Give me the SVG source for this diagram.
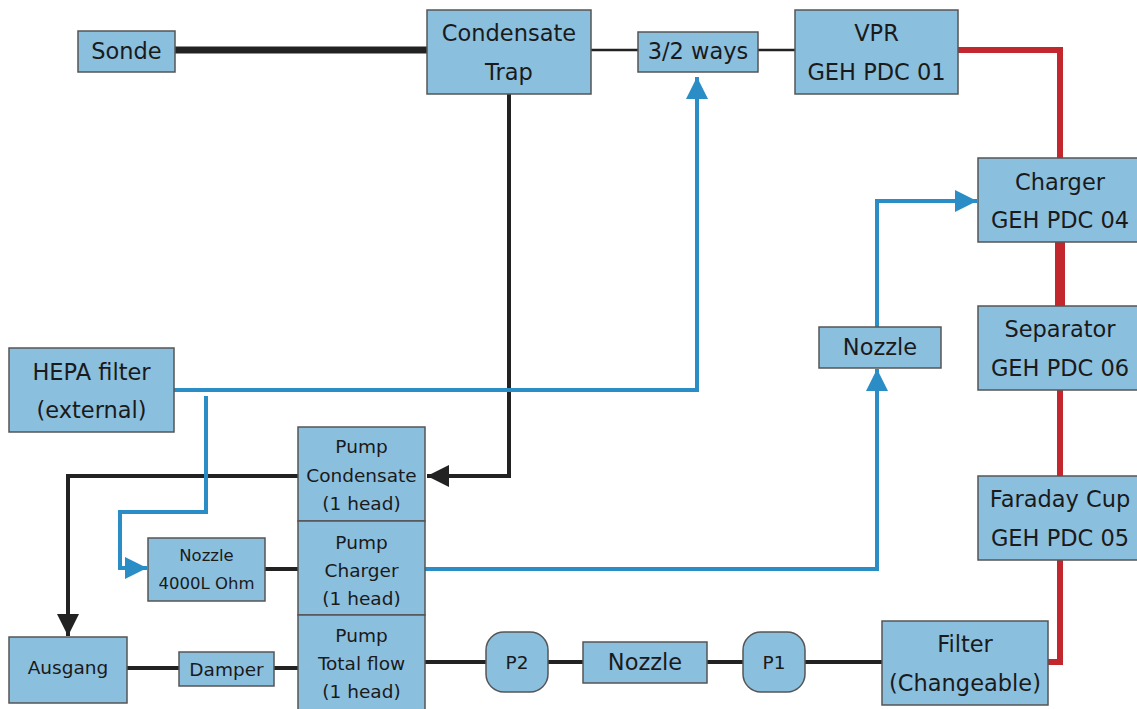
<svg xmlns="http://www.w3.org/2000/svg" width="1137" height="709" viewBox="0 0 1137 709">
<defs>
<style>
.n{fill:#8bbfde;stroke:#555;stroke-width:1.5}
.t{font-family:"DejaVu Sans",sans-serif;fill:#1a1a1a;text-anchor:middle}
.L{font-size:22.5px}
.M{font-size:18.5px}
.S{font-size:16.5px}
.k{fill:none;stroke:#222;stroke-width:4}
.kt{fill:none;stroke:#222;stroke-width:2.5}
.kk{fill:none;stroke:#222;stroke-width:7}
.b{fill:none;stroke:#2a8dc6;stroke-width:4}
.r{fill:none;stroke:#c1272d;stroke-width:6}
</style>
<marker id="ab" viewBox="0 0 10 10" refX="10" refY="5" markerWidth="5.5" markerHeight="5.5" markerUnits="strokeWidth" orient="auto"><path d="M0,0L10,5L0,10z" fill="#2a8dc6"/></marker>
<marker id="ak" viewBox="0 0 10 10" refX="10" refY="5" markerWidth="5.5" markerHeight="5.5" markerUnits="strokeWidth" orient="auto"><path d="M0,0L10,5L0,10z" fill="#222"/></marker>
</defs>
<g id="connectors">
<path class="kk" d="M175,50H427"/>
<path class="kt" d="M591,50H638"/>
<path class="kt" d="M758,50H795"/>
<path class="r" d="M958,50H1060V158"/>
<path class="r" d="M1060,242V306" style="stroke-width:10"/>
<path class="r" d="M1060,390V476"/>
<path class="r" d="M1060,560V662H1048"/>
<path class="k" d="M509,94V476H427" marker-end="url(#ak)"/>
<path class="k" d="M298,476H68V636" marker-end="url(#ak)"/>
<path class="b" d="M174,390H697V77" marker-end="url(#ab)"/>
<path class="b" d="M206,396V512H120V568H147" marker-end="url(#ab)"/>
<path class="b" d="M425,569H877V369" marker-end="url(#ab)"/>
<path class="b" d="M877,327V201H977" marker-end="url(#ab)"/>
<path class="k" d="M265,569H298"/>
<path class="k" d="M127,668H179M274,668H298"/>
<path class="k" d="M425,662H486M548,662H583M707,662H743M805,662H882"/>
</g>
<g id="sonde"><rect class="n" x="78" y="31" width="97" height="41"/><text class="t L" x="126.5" y="59">Sonde</text></g>
<g id="condensate-trap"><rect class="n" x="427" y="10" width="164" height="84"/><text class="t L" x="509" y="41">Condensate</text><text class="t L" x="509" y="80">Trap</text></g>
<g id="way32"><rect class="n" x="638" y="32" width="120" height="40"/><text class="t L" x="698" y="59">3/2 ways</text></g>
<g id="vpr"><rect class="n" x="795" y="10" width="163" height="84"/><text class="t L" x="876.5" y="41">VPR</text><text class="t L" x="876.5" y="80">GEH PDC 01</text></g>
<g id="charger"><rect class="n" x="978" y="158" width="162" height="84"/><text class="t L" x="1060" y="190">Charger</text><text class="t L" x="1060" y="228">GEH PDC 04</text></g>
<g id="separator"><rect class="n" x="978" y="306" width="162" height="84"/><text class="t L" x="1060" y="337">Separator</text><text class="t L" x="1060" y="376">GEH PDC 06</text></g>
<g id="faraday"><rect class="n" x="978" y="476" width="162" height="84"/><text class="t L" x="1060" y="507">Faraday Cup</text><text class="t L" x="1060" y="546">GEH PDC 05</text></g>
<g id="nozzle-right"><rect class="n" x="819" y="327" width="122" height="41"/><text class="t L" x="880" y="355">Nozzle</text></g>
<g id="hepa"><rect class="n" x="9" y="348" width="165" height="84"/><text class="t L" x="91.5" y="380">HEPA filter</text><text class="t L" x="91.5" y="418">(external)</text></g>
<g id="pump-condensate"><rect class="n" x="298" y="427" width="127" height="94"/><text class="t M" x="361.5" y="453">Pump</text><text class="t M" x="361.5" y="482">Condensate</text><text class="t M" x="361.5" y="510">(1 head)</text></g>
<g id="pump-charger"><rect class="n" x="298" y="521" width="127" height="94"/><text class="t M" x="361.5" y="549">Pump</text><text class="t M" x="361.5" y="577">Charger</text><text class="t M" x="361.5" y="605">(1 head)</text></g>
<g id="pump-total"><rect class="n" x="298" y="615" width="127" height="96"/><text class="t M" x="361.5" y="642">Pump</text><text class="t M" x="361.5" y="670">Total flow</text><text class="t M" x="361.5" y="698">(1 head)</text></g>
<g id="nozzle-4000"><rect class="n" x="148" y="538" width="117" height="63"/><text class="t S" x="206.5" y="561">Nozzle</text><text class="t S" x="206.5" y="589">4000L Ohm</text></g>
<g id="ausgang"><rect class="n" x="9" y="637" width="118" height="66"/><text class="t M" x="68" y="674">Ausgang</text></g>
<g id="damper"><rect class="n" x="179" y="652" width="95" height="34"/><text class="t M" x="226.5" y="676">Damper</text></g>
<g id="p2"><rect class="n" x="486" y="632" width="62" height="60" rx="18"/><text class="t M" x="517" y="669">P2</text></g>
<g id="nozzle-bottom"><rect class="n" x="583" y="642" width="124" height="41"/><text class="t L" x="645" y="670">Nozzle</text></g>
<g id="p1"><rect class="n" x="743" y="632" width="62" height="60" rx="18"/><text class="t M" x="774" y="669">P1</text></g>
<g id="filter"><rect class="n" x="882" y="621" width="166" height="84"/><text class="t L" x="965" y="652">Filter</text><text class="t L" x="965" y="691">(Changeable)</text></g>
</svg>
